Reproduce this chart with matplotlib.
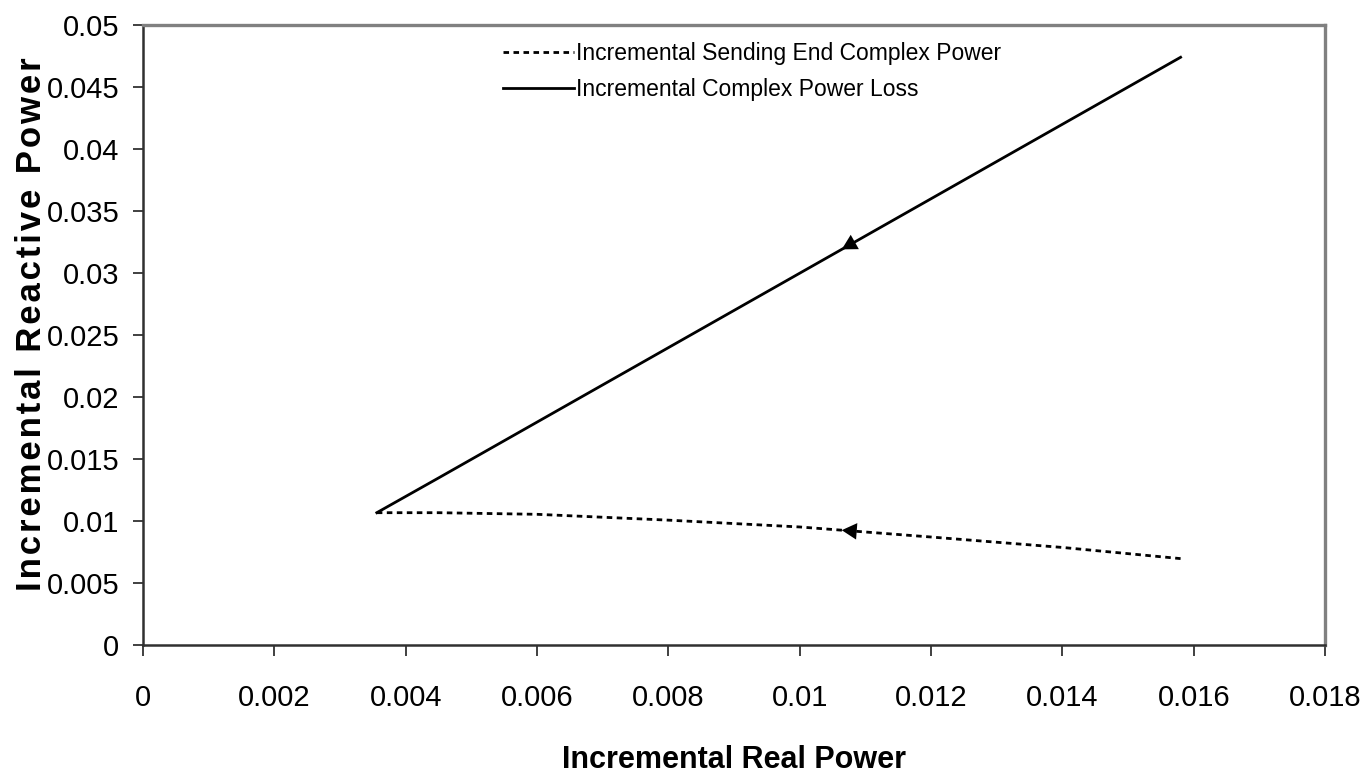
import matplotlib
matplotlib.use('Agg')
import matplotlib.pyplot as plt
import numpy as np

# values
real_p = [0.00356, 0.0045, 0.006, 0.008, 0.010, 0.012, 0.014, 0.0158]
send_q = [0.0107, 0.01070, 0.01057, 0.0101, 0.00955, 0.00874, 0.0079, 0.0070]
loss_q = [0.0107, 0.0135, 0.0180, 0.0240, 0.0300, 0.0360, 0.0420, 0.0474]
arrow_p = 0.01064

xticks = [0, 0.002, 0.004, 0.006, 0.008, 0.01, 0.012, 0.014, 0.016, 0.018]
xtick_labels = ['0', '0.002', '0.004', '0.006', '0.008', '0.01', '0.012', '0.014', '0.016', '0.018']
yticks = [0, 0.005, 0.01, 0.015, 0.02, 0.025, 0.03, 0.035, 0.04, 0.045, 0.05]
ytick_labels = ['0', '0.005', '0.01', '0.015', '0.02', '0.025', '0.03', '0.035', '0.04', '0.045', '0.05']

plt.rcParams['font.family'] = ['Liberation Sans', 'DejaVu Sans']

fig = plt.figure(figsize=(13.7, 7.79), dpi=100)
ax = fig.add_axes([0.1044, 0.1714, 0.8628, 0.7965])

ax.plot(real_p, send_q, color='black', lw=2, dashes=(2, 1.6),
        label='Incremental Sending End Complex Power')
ax.plot(real_p, loss_q, color='black', lw=2, label='Incremental Complex Power Loss')

# direction arrows pointing back toward the common start point
for q in (send_q, loss_q):
    tip = (arrow_p, np.interp(arrow_p, real_p, q))
    tail_p = arrow_p + 0.0008
    tail = (tail_p, np.interp(tail_p, real_p, q))
    ax.annotate('', xy=tip, xytext=tail,
                arrowprops=dict(arrowstyle='-|>,head_length=0.4,head_width=0.22',
                                color='black', lw=0, mutation_scale=27,
                                shrinkA=0, shrinkB=0))

ax.set_xlim(0, 0.018)
ax.set_ylim(0, 0.05)
ax.set_xticks(xticks)
ax.set_xticklabels(xtick_labels)
ax.set_yticks(yticks)
ax.set_yticklabels(ytick_labels)
ax.tick_params(axis='x', direction='out', length=8, width=1.2, pad=20, labelsize=21, color='#202020')
ax.tick_params(axis='y', direction='out', length=7, width=1.2, pad=10, labelsize=21, color='#202020')

for s in ('left', 'bottom'):
    ax.spines[s].set_color('#303030')
    ax.spines[s].set_linewidth(1.8)
for s in ('top', 'right'):
    ax.spines[s].set_color('#808080')
    ax.spines[s].set_linewidth(2.4)

ax.set_xlabel('Incremental Real Power', fontsize=22, fontweight='bold')
ax.xaxis.set_label_coords(0.5, -0.16)
# letter-spaced like the original
ylab = '\u200a'.join('Incremental Reactive Power')
ax.set_ylabel(ylab, fontsize=25, fontweight='bold')
ax.yaxis.set_label_coords(-0.08, 0.518)

ax.legend(loc='upper left', bbox_to_anchor=(0.29, 1.0), frameon=False, fontsize=16.5,
          handlelength=3.1, handletextpad=0.1, labelspacing=0.55, borderaxespad=0.35)

fig.savefig('out.png', dpi=100)
